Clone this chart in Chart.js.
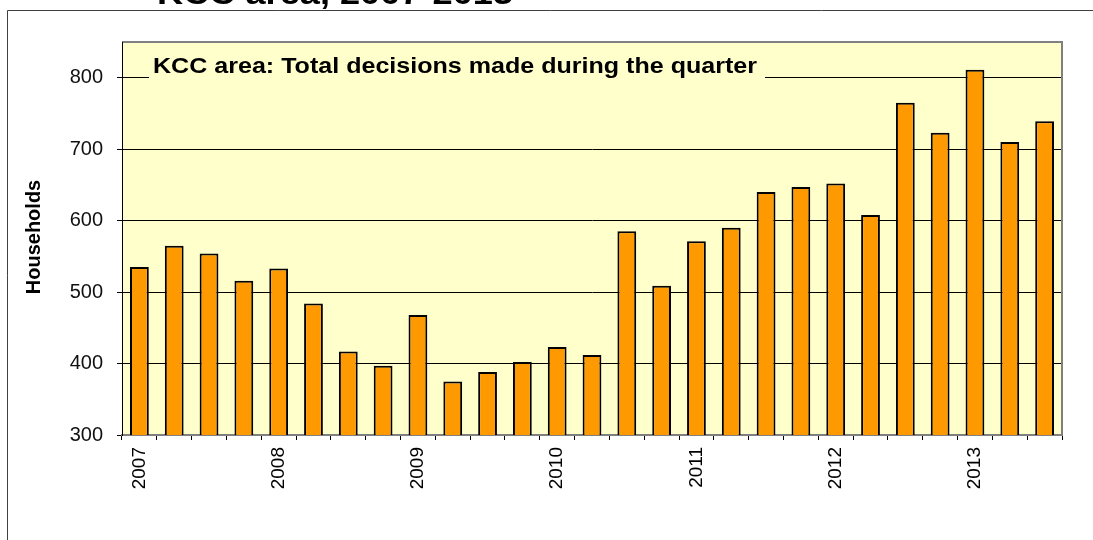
<!DOCTYPE html>
<html>
<head>
<meta charset="utf-8">
<script src="https://cdn.jsdelivr.net/npm/chart.js@4/dist/chart.umd.min.js"></script>
<style>
  html, body { margin: 0; padding: 0; background: #ffffff; }
  #wrap { width: 1093px; height: 540px; }
</style>
</head>
<body>
<div id="wrap"><canvas id="c" width="1093" height="540"></canvas></div>
<script>
// Quarterly decisions, 2007 Q1 – 2013 Q3
const quarters = [
  '2007 Q1', '2007 Q2', '2007 Q3', '2007 Q4',
  '2008 Q1', '2008 Q2', '2008 Q3', '2008 Q4',
  '2009 Q1', '2009 Q2', '2009 Q3', '2009 Q4',
  '2010 Q1', '2010 Q2', '2010 Q3', '2010 Q4',
  '2011 Q1', '2011 Q2', '2011 Q3', '2011 Q4',
  '2012 Q1', '2012 Q2', '2012 Q3', '2012 Q4',
  '2013 Q1', '2013 Q2', '2013 Q3'
];
const decisions = [
  535, 565, 554, 516,
  533, 484, 417, 397,
  468, 375, 388, 402,
  423, 412, 585, 509,
  571, 590, 640, 647,
  652, 608, 765, 723,
  811, 710, 739
];
const yearLabels = ['2007', '2008', '2009', '2010', '2011', '2012', '2013'];
const yTicks = [300, 400, 500, 600, 700, 800];

const mainTitle = 'KCC area, 2007-2013';
const panelTitle = 'KCC area: Total decisions made during the quarter';
const yTitle = 'Households';
const FONT = "'Liberation Sans', Arial, sans-serif";

// Draws text squeezed/stretched horizontally to a given width
function fitText(ctx, text, cx, baseline, width) {
  const w = ctx.measureText(text).width;
  ctx.save();
  ctx.translate(cx, baseline);
  ctx.scale(width / w, 1);
  ctx.textAlign = 'center';
  ctx.textBaseline = 'alphabetic';
  ctx.fillText(text, 0, 0);
  ctx.restore();
}

const decor = {
  id: 'decor',
  beforeDraw(chart) {
    const ctx = chart.ctx;
    const a = chart.chartArea;
    ctx.save();
    ctx.fillStyle = '#ffffff';
    ctx.fillRect(0, 0, chart.width, chart.height);
    // outer frame
    ctx.strokeStyle = '#404040';
    ctx.lineWidth = 1;
    ctx.beginPath();
    ctx.moveTo(7.5, chart.height);
    ctx.lineTo(7.5, 10.5);
    ctx.lineTo(chart.width, 10.5);
    ctx.stroke();
    // main title (runs off the top edge)
    ctx.fillStyle = '#000000';
    ctx.font = 'bold 32px ' + FONT;
    fitText(ctx, mainTitle, 335, 3.5, 356);
    // plot background
    ctx.fillStyle = '#FFFFCC';
    ctx.fillRect(a.left, a.top, a.right - a.left, a.bottom - a.top);
    ctx.restore();
  },
  afterDraw(chart) {
    const ctx = chart.ctx;
    const a = chart.chartArea;
    ctx.save();
    // plot frame, top and right
    ctx.strokeStyle = '#808080';
    ctx.lineWidth = 2;
    ctx.beginPath();
    ctx.moveTo(a.left, a.top);
    ctx.lineTo(a.right, a.top);
    ctx.lineTo(a.right, a.bottom);
    ctx.stroke();
    // left axis line
    ctx.strokeStyle = '#000000';
    ctx.lineWidth = 1;
    ctx.beginPath();
    ctx.moveTo(a.left + 0.5, a.top);
    ctx.lineTo(a.left + 0.5, a.bottom);
    ctx.stroke();
    // panel title box
    ctx.fillStyle = '#FFFFCC';
    ctx.fillRect(149, 50, 616, 32);
    ctx.fillStyle = '#000000';
    ctx.font = 'bold 22px ' + FONT;
    fitText(ctx, panelTitle, 455, 72.5, 604);
    // y axis title
    ctx.save();
    ctx.translate(40, 237);
    ctx.rotate(-Math.PI / 2);
    ctx.font = 'bold 20px ' + FONT;
    ctx.textAlign = 'center';
    ctx.textBaseline = 'alphabetic';
    ctx.fillText(yTitle, 0, 0);
    ctx.restore();
    ctx.restore();
  }
};

new Chart(document.getElementById('c'), {
  type: 'bar',
  data: {
    labels: quarters,
    datasets: [{
      data: decisions,
      backgroundColor: '#FF9900',
      borderColor: '#000000',
      borderWidth: 2,
      borderSkipped: false,
      barPercentage: 0.54,
      categoryPercentage: 1.0
    }]
  },
  options: {
    responsive: false,
    animation: false,
    devicePixelRatio: 1,
    layout: { padding: { left: 0, top: 42, right: 31, bottom: 0 } },
    plugins: {
      legend: { display: false },
      title: { display: false },
      tooltip: { enabled: false }
    },
    scales: {
      x: {
        afterFit(scale) { scale.height = 105; },
        grid: {
          display: true,
          drawOnChartArea: false,
          drawTicks: true,
          tickLength: 5,
          color: '#000000',
          lineWidth: 1
        },
        border: { display: true, color: '#808080', width: 2 },
        ticks: {
          autoSkip: false,
          maxRotation: 90,
          minRotation: 90,
          padding: 7,
          color: '#000000',
          font: { family: FONT, size: 19 },
          callback(value, index) {
            return index % 4 === 0 ? yearLabels[index / 4] : '';
          }
        }
      },
      y: {
        min: 300,
        max: 850,
        afterFit(scale) { scale.width = 122; },
        afterBuildTicks(scale) {
          scale.ticks = yTicks.map(v => ({ value: v }));
        },
        grid: {
          color: (c) => (c.tick && c.tick.value === 300 ? 'rgba(0,0,0,0)' : '#000000'),
          lineWidth: 1,
          drawTicks: true,
          tickLength: 5,
          tickColor: '#000000'
        },
        border: { display: true, color: '#000000', width: 1 },
        ticks: {
          padding: 14,
          color: '#111111',
          font: { family: FONT, size: 20 }
        }
      }
    }
  },
  plugins: [decor]
});
</script>
</body>
</html>
